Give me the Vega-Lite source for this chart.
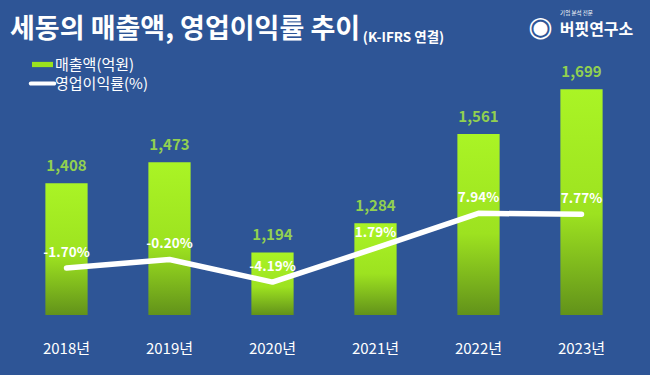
{
  "$schema": "https://vega.github.io/schema/vega-lite/v6.json",
  "width": 618,
  "height": 255,
  "autosize": "none",
  "padding": {"left": 15, "top": 60, "right": 17, "bottom": 60},
  "background": "#2E5596",
  "config": {
    "view": {"stroke": null},
    "font": "Noto Sans CJK KR",
    "locale": {"number": {"decimal": ".", "thousands": ",", "grouping": [3], "currency": ["$", ""], "minus": "-"}}
  },
  "title": {
    "text": "세동의 매출액, 영업이익률 추이",
    "anchor": "start",
    "frame": "group",
    "font": "Noto Sans CJK KR",
    "fontSize": 27,
    "fontWeight": "bold",
    "color": "#FFFFFF",
    "offset": 0,
    "dx": -5,
    "dy": 34
  },
  "data": {
    "values": [
      {"year": "2018년", "sales": 1408, "margin": -0.0170},
      {"year": "2019년", "sales": 1473, "margin": -0.0020},
      {"year": "2020년", "sales": 1194, "margin": -0.0419},
      {"year": "2021년", "sales": 1284, "margin": 0.0179},
      {"year": "2022년", "sales": 1561, "margin": 0.0794},
      {"year": "2023년", "sales": 1699, "margin": 0.0777}
    ]
  },
  "layer": [
    {
      "encoding": {
        "x": {
          "field": "year", "type": "nominal", "sort": null,
          "scale": {"paddingInner": 0.59, "paddingOuter": 0.295},
          "axis": {
            "orient": "bottom", "domain": false, "ticks": false, "tickSize": 0, "grid": false,
            "labelAngle": 0, "labelFont": "Noto Sans CJK KR", "labelFontSize": 15, "labelColor": "#FFFFFF",
            "labelPadding": 26,
            "title": "기업 분석 전문", "titleFont": "Noto Sans CJK KR", "titleFontSize": 5.5, "titleFontWeight": "normal",
            "titleColor": "#FFFFFF", "titleAngle": 0, "titleAlign": "center", "titleBaseline": "middle",
            "titleX": 561, "titleY": -303
          }
        },
        "y": {
          "field": "sales", "type": "quantitative",
          "scale": {"domain": [1000, 1790], "zero": false, "nice": false},
          "axis": {
            "domain": false, "ticks": false, "labels": false, "grid": false,
            "title": "(K-IFRS  연결)", "titleFont": "Noto Sans CJK KR", "titleFontSize": 13.5, "titleFontWeight": "bold",
            "titleColor": "#FFFFFF", "titleAngle": 0, "titleAlign": "center", "titleBaseline": "middle",
            "titleX": 388, "titleY": -23
          }
        }
      },
      "layer": [
        {
          "mark": {
            "type": "bar",
            "color": {
              "gradient": "linear", "x1": 0, "y1": 0, "x2": 0, "y2": 1,
              "stops": [
                {"offset": 0, "color": "#AAF425"},
                {"offset": 0.55, "color": "#9DE220"},
                {"offset": 1, "color": "#62921A"}
              ]
            }
          },
          "encoding": {"y2": {"datum": 1000}}
        },
        {
          "mark": {"type": "text", "dy": -17, "baseline": "middle", "align": "center", "font": "Noto Sans CJK KR", "fontSize": 15, "fontWeight": "bold", "color": "#92D050"},
          "encoding": {"text": {"field": "sales", "type": "quantitative", "format": ","}}
        }
      ]
    },
    {
      "encoding": {
        "x": {
          "field": "year", "type": "nominal", "sort": null,
          "axis": {
            "orient": "top", "domain": false, "ticks": false, "labels": false, "grid": false,
            "title": "◉", "titleFont": "DejaVu Sans", "titleFontSize": 28, "titleFontWeight": "normal",
            "titleColor": "#FFFFFF", "titleAngle": 0, "titleAlign": "center", "titleBaseline": "middle",
            "titleX": 525, "titleY": -33
          }
        },
        "y": {
          "field": "margin", "type": "quantitative",
          "scale": {"domain": [-0.10, 0.35], "zero": false, "nice": false},
          "axis": {
            "orient": "right", "domain": false, "ticks": false, "labels": false, "grid": false,
            "title": "버핏연구소", "titleFont": "Noto Sans CJK KR", "titleFontSize": 16, "titleFontWeight": "bold",
            "titleColor": "#FFFFFF", "titleAngle": 0, "titleAlign": "center", "titleBaseline": "middle",
            "titleX": -37, "titleY": -31
          }
        }
      },
      "layer": [
        {
          "mark": {"type": "line", "strokeWidth": 5.5, "strokeCap": "round", "strokeJoin": "round"},
          "encoding": {
            "color": {
              "datum": "영업이익률(%)",
              "scale": {"domain": ["매출액(억원)", "영업이익률(%)"], "range": ["#9BE31E", "#FFFFFF"]},
              "legend": {
                "orient": "none", "legendX": 20, "legendY": -3, "title": null, "padding": 0,
                "symbolSize": 225, "labelOffset": 5, "rowPadding": 3,
                "labelFont": "Noto Sans CJK KR", "labelFontSize": 15, "labelColor": "#FFFFFF",
                "encode": {
                  "symbols": {
                    "update": {
                      "shape": {"signal": "datum.value == '매출액(억원)' ? 'M-1.4,-0.35H1.4V0.35H-1.4Z' : 'M-1.55,-0.28H1.55A0.28,0.28 0 0 1 1.55,0.28H-1.55A0.28,0.28 0 0 1 -1.55,-0.28Z'"},
                      "fill": {"signal": "scale('color', datum.value)"},
                      "stroke": {"value": "transparent"},
                      "strokeWidth": {"value": 0},
                      "opacity": {"value": 1}
                    }
                  }
                }
              }
            }
          }
        },
        {
          "mark": {"type": "text", "dy": -15, "baseline": "middle", "align": "center", "font": "Noto Sans CJK KR", "fontSize": 13.5, "fontWeight": "bold", "color": "#FFFFFF"},
          "encoding": {"text": {"field": "margin", "type": "quantitative", "format": ".2%"}}
        }
      ]
    }
  ],
  "resolve": {"scale": {"y": "independent"}, "axis": {"x": "independent"}}
}
